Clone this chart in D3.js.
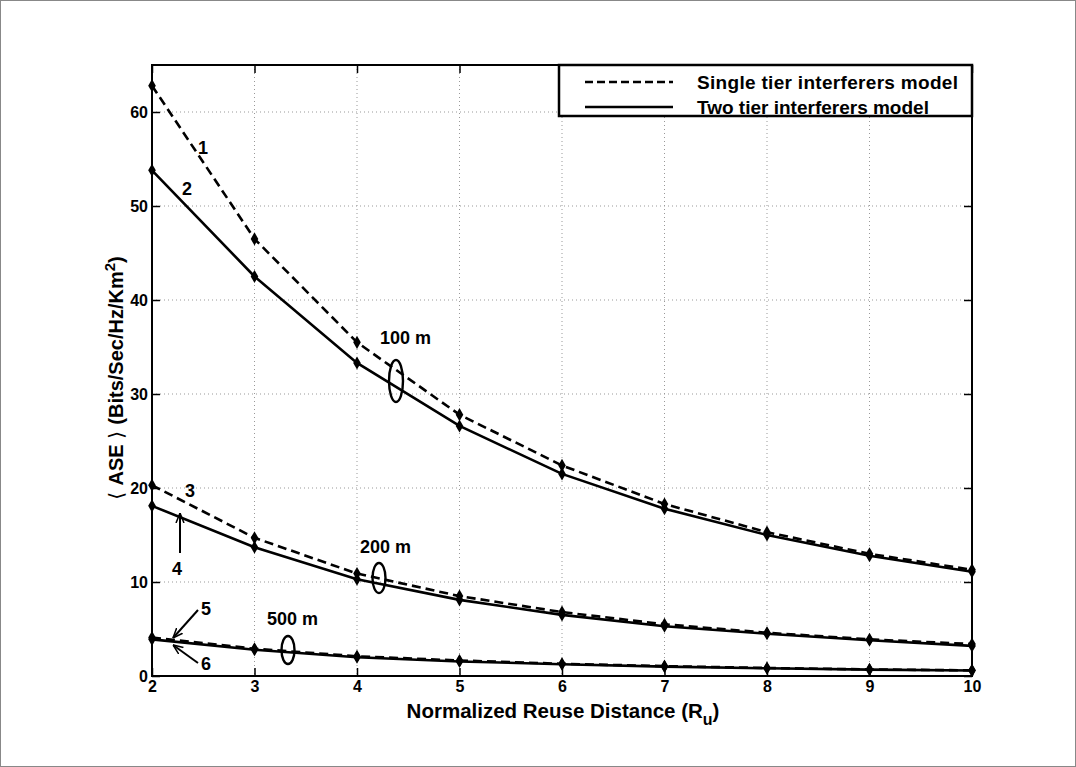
<!DOCTYPE html>
<html>
<head>
<meta charset="utf-8">
<script src="https://cdn.jsdelivr.net/npm/d3@7"></script>
<style>
  body { margin: 0; background: #fff; }
  svg { display: block; font-family: "Liberation Sans", Arial, sans-serif; }
</style>
</head>
<body>
<svg id="chart" width="1076" height="767"></svg>
<script>
// reuse distance values on the x axis
const reuseDist = [2, 3, 4, 5, 6, 7, 8, 9, 10];

// ASE values
const single100 = [62.8, 46.5, 35.5, 27.8, 22.4, 18.3, 15.3, 13.0, 11.3];
const two100    = [53.8, 42.5, 33.3, 26.6, 21.5, 17.8, 15.0, 12.8, 11.1];
const single200 = [20.3, 14.7, 10.9, 8.5, 6.8, 5.5, 4.6, 3.9, 3.4];
const two200    = [18.1, 13.7, 10.3, 8.1, 6.5, 5.3, 4.5, 3.8, 3.2];
const single500 = [4.1, 2.9, 2.1, 1.65, 1.3, 1.05, 0.85, 0.7, 0.6];
const two500    = [3.9, 2.8, 2.0, 1.55, 1.25, 1.0, 0.82, 0.68, 0.58];

const xTicks = [2, 3, 4, 5, 6, 7, 8, 9, 10];
const yTicks = [0, 10, 20, 30, 40, 50, 60];
const legendLabels = ["Single tier interferers model", "Two tier interferers model"];

const series = [
  { values: single100, dashed: true },
  { values: two100, dashed: false },
  { values: single200, dashed: true },
  { values: two200, dashed: false },
  { values: single500, dashed: true },
  { values: two500, dashed: false }
];

const svg = d3.select("#chart");
const margin = { top: 65, left: 152, right: 104, bottom: 91 };
const W = 1076, H = 767;
const width = W - margin.left - margin.right;
const height = H - margin.top - margin.bottom;

// outer frame
svg.append("rect")
  .attr("x", 0.5).attr("y", 0.5)
  .attr("width", W - 1).attr("height", H - 1)
  .attr("fill", "#fff").attr("stroke", "#888");

const g = svg.append("g").attr("transform", `translate(${margin.left},${margin.top})`);

const x = d3.scaleLinear().domain([2, 10]).range([0, width]);
const y = d3.scaleLinear().domain([0, 65]).range([height, 0]);

// dotted grid
g.append("g").selectAll("line").data(xTicks.slice(1, -1)).join("line")
  .attr("x1", d => x(d)).attr("x2", d => x(d))
  .attr("y1", 0).attr("y2", height)
  .attr("stroke", "#999").attr("stroke-dasharray", "1,3");
g.append("g").selectAll("line").data(yTicks.slice(1)).join("line")
  .attr("x1", 0).attr("x2", width)
  .attr("y1", d => y(d)).attr("y2", d => y(d))
  .attr("stroke", "#999").attr("stroke-dasharray", "1,3");

// axes with inward ticks
const tickFont = g => g.selectAll("text")
  .attr("font-size", "16px").attr("font-weight", "bold")
  .attr("font-family", "Liberation Sans, Arial, sans-serif").attr("fill", "#000");

g.append("g").attr("transform", `translate(0,${height})`)
  .call(d3.axisBottom(x).tickValues(xTicks).tickFormat(d3.format("d")).tickSizeInner(-8).tickSizeOuter(0).tickPadding(5))
  .call(tickFont)
  .call(a => a.select(".domain").remove())
  .call(a => a.selectAll("line").attr("stroke-width", 1.5));

g.append("g")
  .call(d3.axisLeft(y).tickValues(yTicks).tickSizeInner(-8).tickSizeOuter(0).tickPadding(4))
  .call(tickFont)
  .call(a => a.select(".domain").remove())
  .call(a => a.selectAll("line").attr("stroke-width", 1.5));

g.append("g")
  .call(d3.axisTop(x).tickValues(xTicks).tickSizeInner(-8).tickSizeOuter(0).tickFormat(""))
  .call(a => a.select(".domain").remove())
  .call(a => a.selectAll("line").attr("stroke-width", 1.5));

g.append("g").attr("transform", `translate(${width},0)`)
  .call(d3.axisRight(y).tickValues(yTicks).tickSizeInner(-8).tickSizeOuter(0).tickFormat(""))
  .call(a => a.select(".domain").remove())
  .call(a => a.selectAll("line").attr("stroke-width", 1.5));

g.append("rect")
  .attr("width", width).attr("height", height)
  .attr("fill", "none").attr("stroke", "#000").attr("stroke-width", 2);

// curves
const line = d3.line().x((d, i) => x(reuseDist[i])).y(d => y(d));
const diamond = d3.symbol().type(d3.symbolDiamond).size(50);

series.forEach(s => {
  g.append("path")
    .attr("d", line(s.values))
    .attr("fill", "none").attr("stroke", "#000")
    .attr("stroke-width", 2.6)
    .attr("stroke-dasharray", s.dashed ? "9,5" : null);
  g.append("g").selectAll("path").data(s.values).join("path")
    .attr("transform", (d, i) => `translate(${x(reuseDist[i])},${y(d)})`)
    .attr("d", diamond).attr("fill", "#000");
});

// legend
const lg = svg.append("g");
lg.append("rect")
  .attr("x", 559).attr("y", 65).attr("width", 413).attr("height", 51)
  .attr("fill", "#fff").attr("stroke", "#000").attr("stroke-width", 2.5);
legendLabels.forEach((lab, i) => {
  const ly = 82 + i * 25;
  lg.append("line")
    .attr("x1", 585).attr("x2", 673).attr("y1", ly).attr("y2", ly)
    .attr("stroke", "#000").attr("stroke-width", 2.6)
    .attr("stroke-dasharray", i === 0 ? "8,4" : null);
  lg.append("text")
    .attr("x", 697).attr("y", ly + 7)
    .attr("font-size", "19px").attr("font-weight", "bold")
    .attr("textLength", i === 0 ? 261 : null)
    .text(lab);
});

// axis labels
svg.append("text")
  .attr("x", 563).attr("y", 718)
  .attr("text-anchor", "middle")
  .attr("font-size", "20.5px").attr("font-weight", "bold")
  .call(t => {
    t.append("tspan").text("Normalized Reuse Distance (R");
    t.append("tspan").attr("dy", 7).attr("font-size", "16px").text("u");
    t.append("tspan").attr("dy", -7).text(")");
  });

svg.append("text")
  .attr("transform", "translate(123,378) rotate(-90)")
  .attr("text-anchor", "middle")
  .attr("font-size", "20px").attr("font-weight", "bold")
  .call(t => {
    t.append("tspan").attr("font-family", "DejaVu Sans").attr("font-weight", "normal").text("\u27E8 ");
    t.append("tspan").text("ASE ");
    t.append("tspan").attr("font-family", "DejaVu Sans").attr("font-weight", "normal").text("\u27E9 ");
    t.append("tspan").text("(Bits/Sec/Hz/Km");
    t.append("tspan").attr("dy", -8).attr("font-size", "15px").text("2");
    t.append("tspan").attr("dy", 8).text(")");
  });

// curve annotations
const notes = [
  { t: "1", x: 203, y: 154 },
  { t: "2", x: 187, y: 195 },
  { t: "3", x: 190, y: 497 },
  { t: "4", x: 177, y: 575 },
  { t: "5", x: 206, y: 615 },
  { t: "6", x: 206, y: 670 }
];
svg.append("g").selectAll("text").data(notes).join("text")
  .attr("x", d => d.x).attr("y", d => d.y)
  .attr("text-anchor", "middle")
  .attr("font-size", "18px").attr("font-weight", "bold")
  .text(d => d.t);

const groups = [
  { t: "100 m", tx: 380, ty: 344, cx: 396, cy: 381, rx: 7, ry: 21 },
  { t: "200 m", tx: 360, ty: 553, cx: 379, cy: 578, rx: 6.5, ry: 15 },
  { t: "500 m", tx: 267, ty: 625, cx: 288, cy: 650, rx: 6.5, ry: 14 }
];
groups.forEach(d => {
  svg.append("text").attr("x", d.tx).attr("y", d.ty)
    .attr("font-size", "18px").attr("font-weight", "bold").text(d.t);
  svg.append("ellipse").attr("cx", d.cx).attr("cy", d.cy)
    .attr("rx", d.rx).attr("ry", d.ry)
    .attr("fill", "none").attr("stroke", "#000").attr("stroke-width", 2.4);
});

// arrows
svg.append("defs").append("marker")
  .attr("id", "head").attr("viewBox", "0 0 10 10")
  .attr("refX", 10).attr("refY", 5)
  .attr("markerWidth", 5).attr("markerHeight", 5)
  .attr("orient", "auto")
  .append("path").attr("d", "M0,1 L10,5 L0,9").attr("fill", "none").attr("stroke", "#000").attr("stroke-width", 1.5);

const arrows = [
  { x1: 180, y1: 553, x2: 180, y2: 513 },
  { x1: 198, y1: 610, x2: 173, y2: 638 },
  { x1: 198, y1: 663, x2: 173, y2: 645 }
];
svg.append("g").selectAll("line").data(arrows).join("line")
  .attr("x1", d => d.x1).attr("y1", d => d.y1)
  .attr("x2", d => d.x2).attr("y2", d => d.y2)
  .attr("stroke", "#000").attr("stroke-width", 2)
  .attr("marker-end", "url(#head)");
</script>
</body>
</html>
